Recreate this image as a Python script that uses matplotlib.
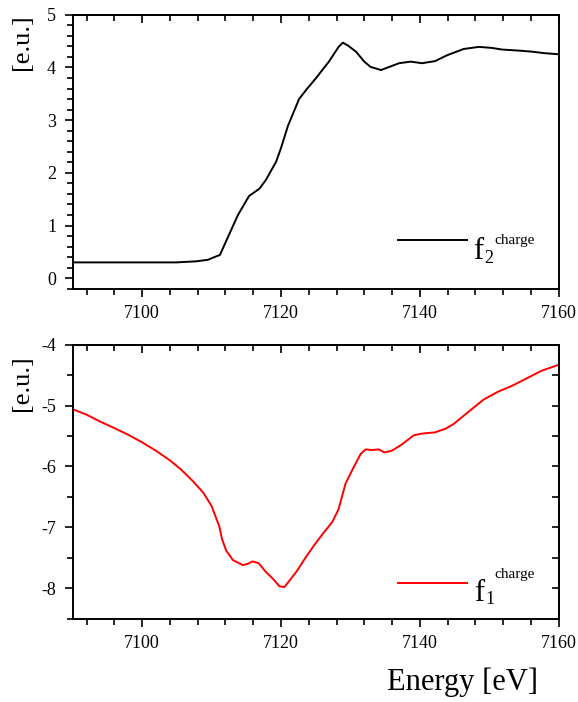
import matplotlib
matplotlib.use("Agg")
import matplotlib.pyplot as plt
from matplotlib.ticker import MultipleLocator

plt.rcParams['font.family'] = ['Liberation Serif', 'DejaVu Serif']

# f2 charge (top panel)
e_f2 = [7090, 7104.9, 7107.8, 7109.5, 7110.4, 7111.2, 7112.6, 7113.8, 7115.4, 7116.9,
        7117.8, 7119.3, 7120.0, 7121.0, 7122.6, 7123.6, 7125.0, 7126.9, 7128.3, 7128.9,
        7129.6, 7130.8, 7132.0, 7132.9, 7134.4, 7135.6, 7137.0, 7138.7, 7140.3, 7142.2,
        7143.9, 7146.3, 7148.5, 7150.4, 7151.8, 7154.2, 7156.1, 7158.0, 7160.0]
f2 = [0.30, 0.30, 0.32, 0.35, 0.40, 0.44, 0.85, 1.20, 1.56, 1.70,
      1.86, 2.21, 2.47, 2.89, 3.40, 3.57, 3.79, 4.11, 4.39, 4.47,
      4.42, 4.30, 4.11, 4.01, 3.95, 4.01, 4.08, 4.11, 4.08, 4.12,
      4.23, 4.35, 4.39, 4.37, 4.34, 4.32, 4.30, 4.27, 4.25]

# f1 charge (bottom panel)
e_f1 = [7090, 7092, 7093.9, 7095.8, 7098.0, 7100.1, 7102.1, 7104.0, 7105.6, 7107.3,
        7108.8, 7110.0, 7111.1, 7111.5, 7112.1, 7113.1, 7114.5, 7115.2, 7115.9, 7116.8,
        7117.8, 7118.8, 7119.8, 7120.5, 7121.4, 7122.4, 7123.4, 7124.8, 7126.0, 7127.4,
        7128.3, 7129.3, 7130.3, 7131.5, 7132.2, 7133.1, 7134.1, 7134.9, 7136.0, 7137.4,
        7139.1, 7140.3, 7142.2, 7143.7, 7144.9, 7146.5, 7149.2, 7151.3, 7153.2, 7155.1,
        7157.5, 7160.0]
f1 = [-5.06, -5.15, -5.26, -5.36, -5.48, -5.61, -5.75, -5.90, -6.05, -6.24,
      -6.43, -6.65, -6.98, -7.19, -7.38, -7.54, -7.62, -7.60, -7.56, -7.59,
      -7.73, -7.84, -7.97, -7.98, -7.85, -7.70, -7.52, -7.29, -7.11, -6.91,
      -6.70, -6.28, -6.05, -5.79, -5.72, -5.73, -5.72, -5.77, -5.74, -5.64,
      -5.49, -5.46, -5.44, -5.38, -5.30, -5.15, -4.90, -4.77, -4.68, -4.57,
      -4.43, -4.33]

fig = plt.figure(figsize=(5.78, 7.02), dpi=100)
ax1 = fig.add_axes([0.1258, 0.5887, 0.8408, 0.3903])
ax2 = fig.add_axes([0.1258, 0.1187, 0.8408, 0.3903])

ax1.plot(e_f2, f2, color='black', lw=1.4)
ax2.plot(e_f1, f1, color='#ff0000', lw=1.4)

ax1.set_ylim(-0.2, 5)
ax2.set_ylim(-8.5, -4)

for ax, yminor in [(ax1, 0.2), (ax2, 0.5)]:
    ax.set_xlim(7090, 7160)
    ax.xaxis.set_major_locator(MultipleLocator(20))
    ax.xaxis.set_minor_locator(MultipleLocator(4))
    ax.yaxis.set_major_locator(MultipleLocator(1))
    ax.yaxis.set_minor_locator(MultipleLocator(yminor))
    ax.tick_params(which='both', direction='out', width=1.2, labelsize=13)
    ax.tick_params(which='major', length=6, pad=6)
    ax.tick_params(which='minor', length=4)
    for s in ax.spines.values():
        s.set_linewidth(1.4)
    # ticks on top pointing inward
    top = ax.secondary_xaxis('top')
    top.xaxis.set_major_locator(MultipleLocator(20))
    top.xaxis.set_minor_locator(MultipleLocator(4))
    top.tick_params(which='both', direction='in', width=1.2, labeltop=False)
    top.tick_params(which='major', length=6)
    top.tick_params(which='minor', length=4)
    top.spines['top'].set_linewidth(1.4)

ax2.set_yticks([-4, -5, -6, -7, -8])
ax2.set_yticklabels(['-4', '-5', '-6', '-7', '-8'])
ax1.set_xticks([7100, 7120, 7140, 7160])
ax2.set_xticks([7100, 7120, 7140, 7160])

# right ticks on the lower panel
right = ax2.secondary_yaxis('right')
right.yaxis.set_major_locator(MultipleLocator(0.5))
right.tick_params(direction='in', length=5, width=1.2, labelright=False)
right.spines['right'].set_linewidth(1.4)

# legend-like keys
ax1.plot([0.669, 0.811], [0.178, 0.178], transform=ax1.transAxes, color='black', lw=1.4)
ax1.text(0.823, 0.108, 'f', transform=ax1.transAxes, fontsize=22, va='baseline')
ax1.text(0.846, 0.095, '2', transform=ax1.transAxes, fontsize=13, va='baseline')
ax1.text(0.867, 0.165, 'charge', transform=ax1.transAxes, fontsize=11, va='baseline')

ax2.plot([0.669, 0.811], [0.130, 0.130], transform=ax2.transAxes, color='#ff0000', lw=1.4)
ax2.text(0.826, 0.066, 'f', transform=ax2.transAxes, fontsize=22, va='baseline')
ax2.text(0.849, 0.053, '1', transform=ax2.transAxes, fontsize=13, va='baseline')
ax2.text(0.867, 0.147, 'charge', transform=ax2.transAxes, fontsize=11, va='baseline')

fig.text(22 / 578, 1 - 42 / 702, '[e.u.]', rotation=90, fontsize=19, ha='center', va='center')
fig.text(22 / 578, 1 - 383 / 702, '[e.u.]', rotation=90, fontsize=19, ha='center', va='center')
fig.text(463 / 578, 1 - 682 / 702, 'Energy [eV]', fontsize=22, ha='center', va='center')

fig.savefig('out.png', dpi=100)
